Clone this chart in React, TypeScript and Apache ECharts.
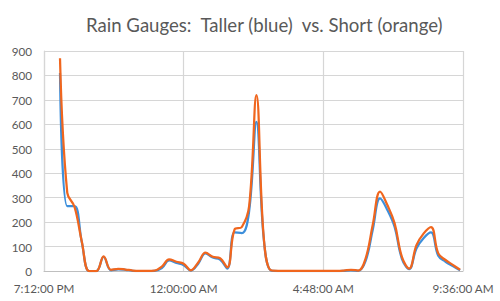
import React, { useEffect, useRef } from "react";
import * as echarts from "echarts";

const title = "Rain Gauges:  Taller (blue)  vs. Short (orange)";

const times = [
  "19:45", "20:00", "20:15", "20:30", "20:45", "21:00", "21:15", "21:30", "21:45", "22:00",
  "22:15", "22:30", "22:45", "23:00", "23:15", "23:30", "23:45", "00:00", "00:15", "00:30",
  "00:45", "01:00", "01:15", "01:30", "01:45", "02:00", "02:15", "02:30", "02:45", "03:00",
  "03:15", "03:30", "03:45", "04:00", "04:15", "04:30", "04:45", "05:00", "05:15", "05:30",
  "05:45", "06:00", "06:15", "06:30", "06:45", "07:00", "07:15", "07:30", "07:45", "08:00",
  "08:15", "08:30", "08:45", "09:00", "09:15", "09:30",
];

const taller = [
  810, 265, 265, 118, 0, 0, 58, 3, 7, 5,
  1, 0, 0, 1, 12, 43, 33, 24, 2, 30,
  72, 55, 47, 10, 158, 155, 245, 610, 135, 2,
  0, 0, 0, 0, 0, 0, 0, 0, 0, 1,
  3, 1, 40, 170, 297, 250, 180, 50, 8, 92,
  135, 158, 62, 38, 20, 3,
];

const shorter = [
  870, 320, 262, 120, 0, 0, 60, 5, 9, 6,
  2, 1, 1, 2, 18, 48, 38, 30, 3, 35,
  75, 58, 52, 15, 170, 180, 265, 720, 140, 3,
  1, 1, 1, 1, 1, 1, 1, 1, 1, 2,
  5, 2, 50, 190, 325, 270, 195, 58, 10, 106,
  154, 180, 72, 45, 25, 5,
];

const toHours = (t: string) => {
  const [h, m] = t.split(":").map(Number);
  const hh = h < 12 ? h + 24 : h;
  return hh + m / 60;
};

const fmt = (v: number) => {
  const totalMin = Math.round(v * 60);
  const h = Math.floor(totalMin / 60) % 24;
  const m = totalMin % 60;
  const ap = h >= 12 ? "PM" : "AM";
  let h12 = h % 12;
  if (h12 === 0) h12 = 12;
  return `${h12}:${String(m).padStart(2, "0")}:00 ${ap}`;
};

export default function App() {
  const ref = useRef<HTMLDivElement>(null);
  useEffect(() => {
    if (!ref.current) return;
    const chart = echarts.init(ref.current, null, { renderer: "svg" });
    const font = "Lato";
    chart.setOption({
      animation: false,
      backgroundColor: "#ffffff",
      title: {
        text: title,
        left: 86,
        top: 15,
        padding: 0,
        textStyle: { fontFamily: font, fontSize: 18.6, fontWeight: "normal", color: "#595959" },
      },
      grid: { left: 44, right: 37, top: 51, bottom: 30 },
      xAxis: {
        type: "value",
        min: 19.2,
        max: 33.6,
        interval: 4.8,
        axisLine: { show: true, lineStyle: { color: "#bfbfbf", width: 1 } },
        axisTick: { show: false },
        splitLine: { show: true, lineStyle: { color: "#d6d6d6", width: 1.2 } },
        axisLabel: {
          formatter: (v: number) => fmt(v),
          fontFamily: font,
          fontSize: 11.7,
          color: "#595959",
          margin: 11,
        },
      },
      yAxis: {
        type: "value",
        min: 0,
        max: 900,
        interval: 100,
        axisLine: { show: true, lineStyle: { color: "#d6d6d6", width: 1.2 } },
        axisTick: { show: false },
        splitLine: { show: true, lineStyle: { color: "#d6d6d6", width: 1.2 } },
        axisLabel: { fontFamily: font, fontSize: 11.7, color: "#595959", margin: 12 },
      },
      series: [
        {
          name: "Taller",
          type: "line",
          data: times.map((t, i) => [toHours(t), taller[i]]),
          smooth: 0.4,
          symbol: "none",
          lineStyle: { color: "#3d8fdb", width: 2.25 },
        },
        {
          name: "Short",
          type: "line",
          data: times.map((t, i) => [toHours(t), shorter[i]]),
          smooth: 0.4,
          symbol: "none",
          lineStyle: { color: "#f0661e", width: 2.25 },
        },
      ],
    });
    return () => chart.dispose();
  }, []);
  return <div ref={ref} style={{ width: 500, height: 301, position: "absolute", left: 0, top: 0 }} />;
}
